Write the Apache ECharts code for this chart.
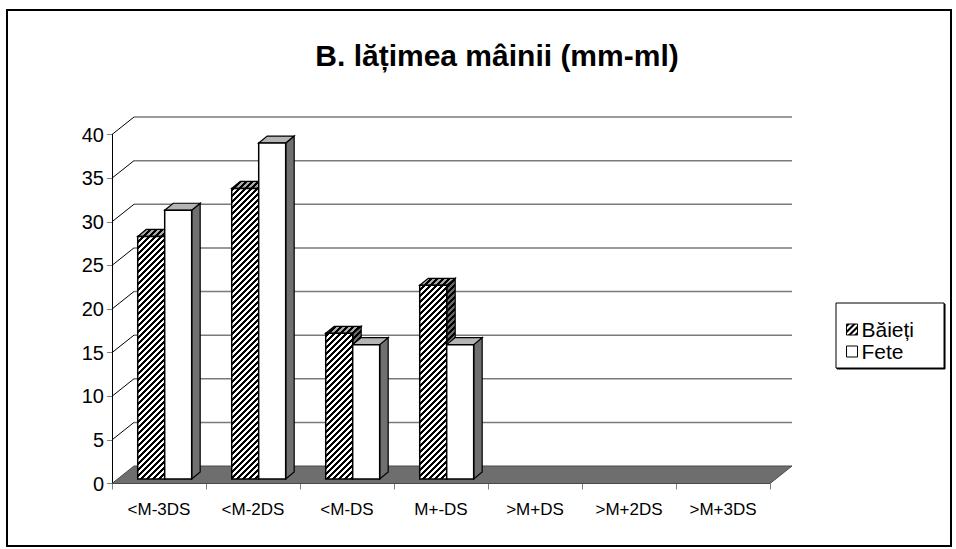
<!DOCTYPE html>
<html><head><meta charset="utf-8">
<script src="https://cdn.jsdelivr.net/npm/echarts@6/dist/echarts.min.js"></script>
<style>html,body{margin:0;padding:0;background:#fff}#c{width:956px;height:549px}</style>
</head><body><div id="c"></div>
<script>
const categories = ['<M-3DS', '<M-2DS', '<M-DS', 'M+-DS', '>M+DS', '>M+2DS', '>M+3DS'];
const baieti = [27.8, 33.3, 16.7, 22.2, null, null, null];
const fete = [30.8, 38.5, 15.4, 15.4, null, null, null];
const yTicks = [0, 5, 10, 15, 20, 25, 30, 35, 40];
const seriesNames = ['Băieți', 'Fete'];
const titleText = 'B. lățimea mâinii (mm-ml)';

// 3D look constants (style, not data)
const DX = 22, DY = -17.5;          // wall depth
const SX = 5.7, SY = -4.5;          // bar front offset into depth
const BDX = 8.5, BDY = -7;          // bar depth
const BAR_FRAC = 0.287;             // bar width / category width
const FONT = '"Liberation Sans", Arial, sans-serif';

function hatch(fg, bg) {
  const c = document.createElement('canvas'); c.width = 6; c.height = 6;
  const ctx = c.getContext('2d');
  ctx.fillStyle = bg; ctx.fillRect(0, 0, 6, 6);
  ctx.fillStyle = fg;
  for (let x = 0; x < 6; x++) for (let y = 0; y < 6; y++) if ((x + y) % 6 < 3) ctx.fillRect(x, y, 1, 1);
  return { image: c, repeat: 'repeat', imageWidth: 6, imageHeight: 6 };
}
const hatchFront = hatch('#000', '#fff');
const hatchTop = hatch('#000', '#a8a8a8');
const hatchSide = hatch('#000', '#6a6a6a');
const hatchLegend = hatch('#000', '#fff');

function renderWall(params, api) {
  const v = api.value(1);
  const cs = params.coordSys;
  const y = api.coord([0, v])[1];
  const x0 = cs.x, x1 = cs.x + cs.width;
  if (v === 0) {
    return { type: 'polygon', shape: { points: [[x0, y], [x0 + DX, y + DY], [x1 + DX, y + DY], [x1, y]] },
      style: { fill: '#6e6e6e', stroke: '#4a4a4a', lineWidth: 1 } };
  }
  return { type: 'group', children: [
    { type: 'line', shape: { x1: x0, y1: y, x2: x0 + DX, y2: y + DY }, style: { stroke: '#000', lineWidth: 1 } },
    { type: 'line', shape: { x1: x0 + DX, y1: y + DY, x2: x1 + DX, y2: y + DY }, style: { stroke: '#7a7a7a', lineWidth: 1.5 } }
  ] };
}

function makeBar(s) {
  return function (params, api) {
    const v = api.value(1);
    if (v == null || isNaN(v)) return;
    const i = api.value(0);
    const top = api.coord([i, v]);
    const bot = api.coord([i, 0]);
    const w = api.size([1, 0])[0];
    const bw = w * BAR_FRAC;
    const x0 = top[0] + (s === 0 ? -bw : 0) + SX;
    const x1 = x0 + bw;
    const yt = top[1] + SY, yb = bot[1] + SY;
    const front = s === 0 ? hatchFront : '#fff';
    const topFill = s === 0 ? hatchTop : '#b4b4b4';
    const sideFill = s === 0 ? hatchSide : '#707070';
    return { type: 'group', children: [
      { type: 'polygon', shape: { points: [[x1, yt], [x1 + BDX, yt + BDY], [x1 + BDX, yb + BDY], [x1, yb]] },
        style: { fill: sideFill, stroke: '#000', lineWidth: 1.2 } },
      { type: 'polygon', shape: { points: [[x0, yt], [x0 + BDX, yt + BDY], [x1 + BDX, yt + BDY], [x1, yt]] },
        style: { fill: topFill, stroke: '#000', lineWidth: 1.2 } },
      { type: 'rect', shape: { x: x0, y: yt, width: bw, height: yb - yt },
        style: { fill: front, stroke: '#000', lineWidth: 1.5 } }
    ] };
  };
}

const chart = echarts.init(document.getElementById('c'), null, { renderer: 'svg' });
chart.setOption({
  animation: false,
  backgroundColor: '#fff',
  title: { text: titleText, left: 492, top: 35, textAlign: 'center',
    textStyle: { fontFamily: FONT, fontSize: 30, fontWeight: 'bold', color: '#000' } },
  legend: {
    orient: 'vertical', left: 836, top: 303,
    padding: [16, 30, 6, 10], itemGap: 1, itemWidth: 11, itemHeight: 11,
    borderColor: '#000', borderWidth: 1, backgroundColor: '#fff',
    shadowColor: '#000', shadowOffsetX: 1, shadowOffsetY: 1, shadowBlur: 0,
    textStyle: { fontFamily: FONT, fontSize: 21, color: '#000', padding: [0, 0, 0, -1] },
    data: [
      { name: seriesNames[0], icon: 'rect', itemStyle: { color: hatchLegend, borderColor: '#000', borderWidth: 1 } },
      { name: seriesNames[1], icon: 'rect', itemStyle: { color: '#fff', borderColor: '#000', borderWidth: 1 } }
    ]
  },
  graphic: [{ type: 'rect', shape: { x: 7, y: 10, width: 944, height: 536 }, style: { fill: 'none', stroke: '#000', lineWidth: 2 }, z: 100 }],
  grid: { left: 112, right: 186, top: 134.5, bottom: 65.5 },
  xAxis: {
    type: 'category', data: categories, boundaryGap: true,
    axisLine: { show: false },
    axisTick: { show: true, length: 6, lineStyle: { color: '#808080', width: 1 } },
    axisLabel: { fontFamily: FONT, fontSize: 17, color: '#000', margin: 17 },
    splitLine: { show: false }
  },
  yAxis: {
    type: 'value', min: 0, max: 40, interval: 5,
    axisLine: { show: true, lineStyle: { color: '#000', width: 1 } },
    axisTick: { show: true, length: 5, lineStyle: { color: '#808080' } },
    axisLabel: { fontFamily: FONT, fontSize: 20, color: '#000', margin: 8 },
    splitLine: { show: false }
  },
  series: [
    { type: 'custom', name: 'wall', renderItem: renderWall, data: yTicks.map(v => [0, v]), silent: true, z: 1 },
    { type: 'custom', name: seriesNames[0], renderItem: makeBar(0), data: categories.map((c, i) => [i, baieti[i]]), z: 3,
      itemStyle: { color: hatchLegend } },
    { type: 'custom', name: seriesNames[1], renderItem: makeBar(1), data: categories.map((c, i) => [i, fete[i]]), z: 4,
      itemStyle: { color: '#fff' } }
  ]
});
</script></body></html>
